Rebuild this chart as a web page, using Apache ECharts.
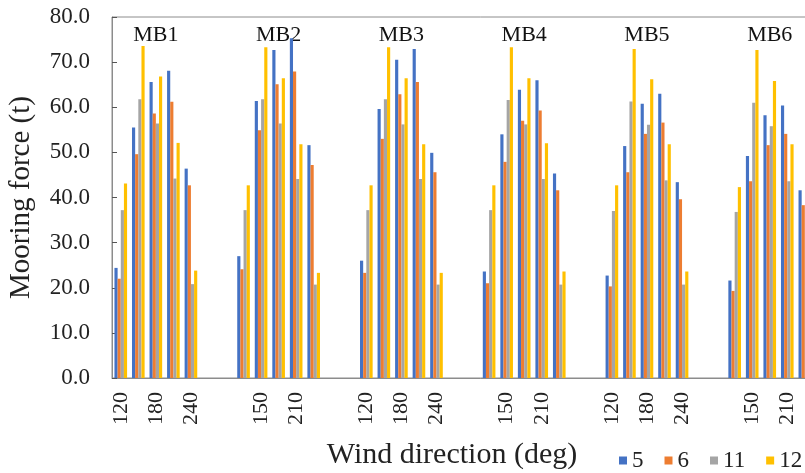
<!DOCTYPE html>
<html>
<head>
<meta charset="utf-8">
<script src="https://cdn.jsdelivr.net/npm/echarts@6/dist/echarts.min.js"></script>
<style>
  html, body { margin: 0; padding: 0; background: #fff; overflow: hidden; }
  #chart { width: 870px; height: 473px; }
</style>
</head>
<body>
<div id="chart"></div>
<script>
// Mooring berths and wind directions (deg)
const berths = ['MB1', 'MB2', 'MB3', 'MB4', 'MB5', 'MB6'];
const directions = ['120', '150', '180', '210', '240'];
const seriesNames = ['5', '6', '11', '12'];

// Mooring force (t) per berth, one row per berth, one value per wind direction
const force5 = [
  [24.4, 55.5, 65.6, 68.1, 46.4],
  [27.0, 61.4, 72.7, 75.3, 51.6],
  [26.0, 59.6, 70.5, 72.9, 49.9],
  [23.6, 54.0, 63.9, 66.0, 45.3],
  [22.7, 51.4, 60.8, 63.0, 43.4],
  [21.6, 49.2, 58.2, 60.4, 41.6]
];
const force6 = [
  [22.0, 49.6, 58.6, 61.2, 42.7],
  [24.1, 54.9, 65.1, 67.9, 47.2],
  [23.3, 53.0, 62.9, 65.6, 45.6],
  [21.0, 47.9, 57.0, 59.3, 41.6],
  [20.3, 45.6, 54.1, 56.6, 39.6],
  [19.3, 43.6, 51.6, 54.1, 38.3]
];
const force11 = [
  [37.2, 61.8, 56.4, 44.2, 20.8],
  [37.2, 61.8, 56.4, 44.1, 20.7],
  [37.2, 61.8, 56.2, 44.1, 20.7],
  [37.2, 61.6, 56.2, 44.1, 20.7],
  [37.0, 61.3, 56.1, 43.8, 20.7],
  [36.8, 61.0, 55.8, 43.6, 20.6]
];
const force12 = [
  [43.1, 73.6, 66.8, 52.1, 23.8],
  [42.7, 73.3, 66.4, 51.8, 23.3],
  [42.7, 73.3, 66.4, 51.8, 23.3],
  [42.7, 73.3, 66.4, 52.0, 23.6],
  [42.7, 72.9, 66.2, 51.8, 23.6],
  [42.3, 72.7, 65.8, 51.8, 23.5]
];
const yTicks = { min: 0, max: 80, step: 10 };

// Berth label anchors: category offset within each berth block and height (t)
const berthLabelOffset = [2, 1.6, 2, 1.7, 1.5, 1.6];
const berthLabelValue = 76;

const colors = ['#4472C4', '#ED7D31', '#A5A5A5', '#FFC000'];
const GAP = 2; // empty categories between berth blocks
const serif = 'Liberation Serif, Times New Roman, serif';

// Build the flat category axis: each berth block followed by empty slots
const categories = [];
berths.forEach(b => {
  directions.forEach(d => categories.push(b + '|' + d));
  for (let k = 0; k < GAP; k++) categories.push(b + '|gap' + k);
});
const blockSize = directions.length + GAP;

function flatten(rows) {
  const out = [];
  rows.forEach(r => {
    r.forEach(v => out.push(v));
    for (let k = 0; k < GAP; k++) out.push(null);
  });
  return out;
}
const allForces = [force5, force6, force11, force12];

const chart = echarts.init(document.getElementById('chart'), null, { renderer: 'canvas' });

const catWidth = 17.54;
chart.setOption({
  animation: false,
  color: colors,
  grid: {
    left: 112, top: 17, height: 361,
    width: catWidth * categories.length,
    containLabel: false,
    outerBoundsMode: 'none',
    show: true, borderColor: '#8c8c8c', borderWidth: 1, backgroundColor: 'transparent'
  },
  legend: {
    data: seriesNames,
    left: 614, top: 444,
    icon: 'rect', itemWidth: 8, itemHeight: 8, itemGap: 21,
    textStyle: { fontFamily: serif, fontSize: 23, color: '#222' }
  },
  xAxis: {
    type: 'category',
    data: categories,
    boundaryGap: true,
    axisLine: { lineStyle: { color: '#8c8c8c', width: 1 } },
    axisTick: { inside: true, length: 5, interval: 0, lineStyle: { color: '#555' } },
    axisLabel: {
      interval: 1, rotate: 90, margin: 14,
      fontFamily: serif, fontSize: 22, color: '#222',
      formatter: v => { const p = v.split('|')[1]; return p.startsWith('gap') ? '' : p; }
    },
    splitLine: { show: false }
  },
  yAxis: {
    type: 'value',
    min: yTicks.min, max: yTicks.max, interval: yTicks.step,
    name: 'Mooring force (t)',
    nameLocation: 'middle', nameGap: 76, nameRotate: 90,
    nameTextStyle: { fontFamily: serif, fontSize: 29, color: '#222' },
    axisLine: { show: true, lineStyle: { color: '#8c8c8c', width: 1 } },
    axisTick: { show: true, inside: true, length: 5, lineStyle: { color: '#555' } },
    axisLabel: {
      margin: 22, fontFamily: serif, fontSize: 23, color: '#222',
      formatter: v => v.toFixed(1)
    },
    splitLine: { show: false }
  },
  series: seriesNames.map((name, i) => ({
    name,
    type: 'bar',
    data: flatten(allForces[i]),
    barGap: '0%',
    barCategoryGap: '28%',
    itemStyle: { color: colors[i] }
  })),
  graphic: []
});

// Axis title and berth labels, placed through the chart's own coordinate system
const graphics = [];
berths.forEach((b, bi) => {
  const idx = bi * blockSize + berthLabelOffset[bi];
  const p = chart.convertToPixel({ gridIndex: 0 }, [idx, berthLabelValue]);
  graphics.push({
    type: 'text', x: p[0], y: p[1],
    style: {
      text: b, fontFamily: serif, fontSize: 22, fill: '#111',
      textAlign: 'center', textVerticalAlign: 'middle'
    }
  });
});
graphics.push({
  type: 'text', x: 452, y: 455,
  style: {
    text: 'Wind direction (deg)', fontFamily: serif, fontSize: 30, fill: '#222',
    textAlign: 'center', textVerticalAlign: 'middle'
  }
});
chart.setOption({ graphic: graphics });
</script>
</body>
</html>
